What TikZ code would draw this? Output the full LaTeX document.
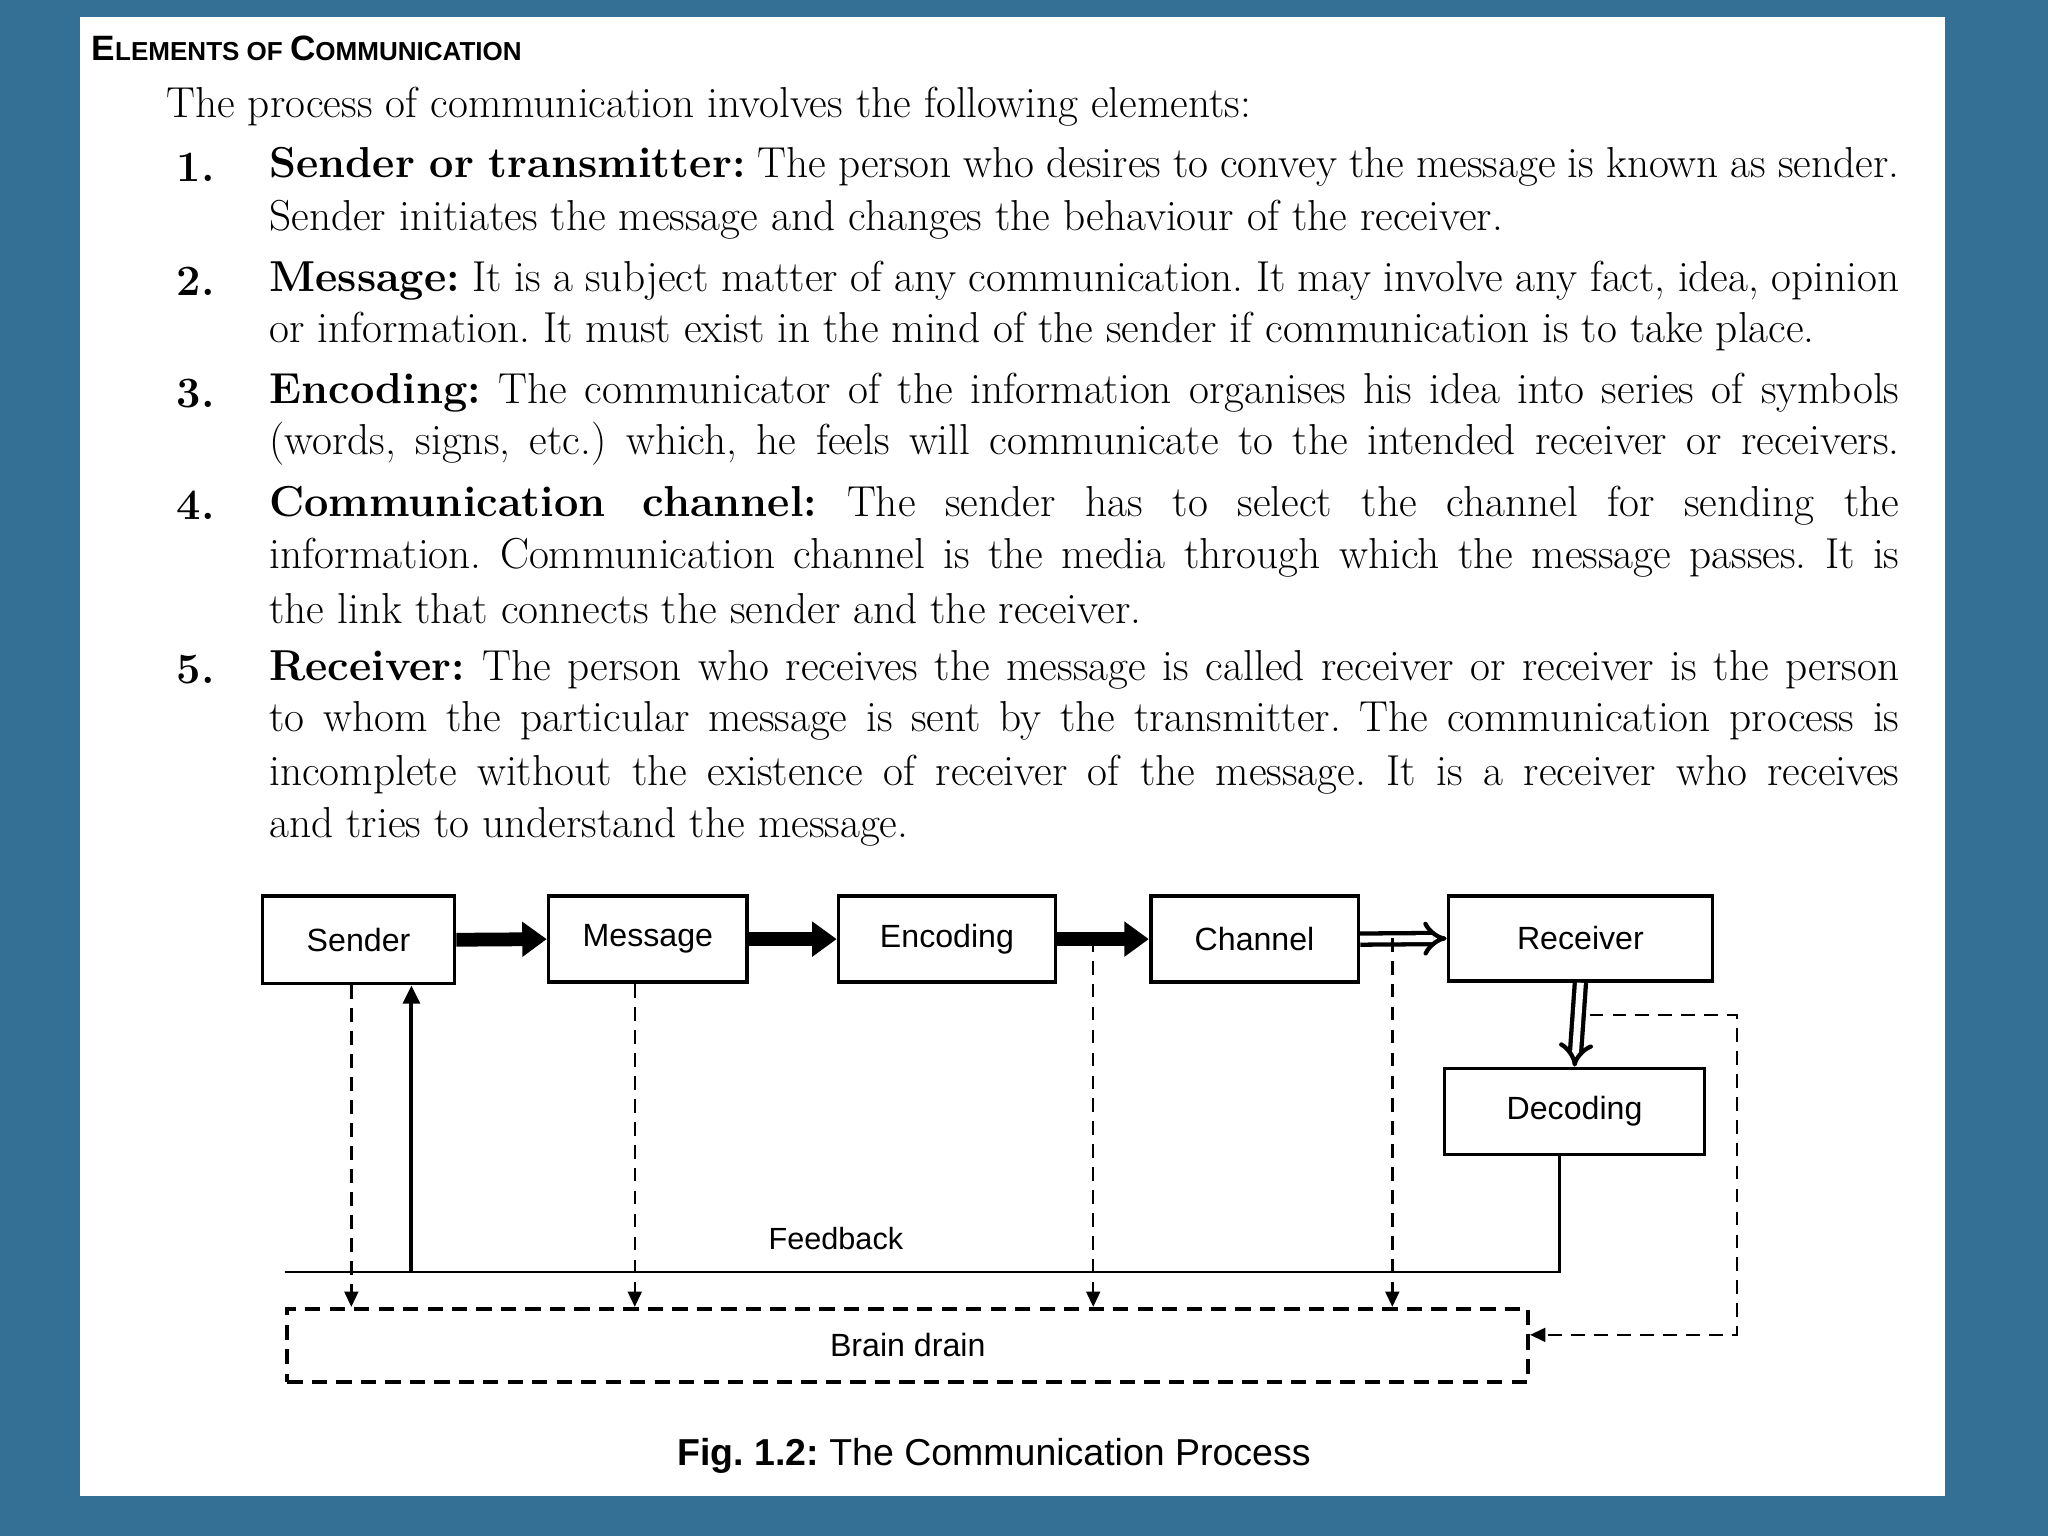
\documentclass[tikz,border=0pt]{standalone}
\usepackage{fontspec}
\newfontfamily\sans{Liberation Sans}
\usetikzlibrary{arrows.meta}
\definecolor{bgblue}{RGB}{52,112,150}
\newcommand{\jl}[1]{\hbox to 37.44cm{#1}}
\frenchspacing
\begin{document}
\begin{tikzpicture}[x=0.03cm,y=-0.03cm,
  box/.style={draw,line width=2.4pt,font=\sans\fontsize{21}{24}\selectfont,inner sep=0pt},
  txt/.style={anchor=west,inner sep=0pt,font=\fontsize{28.3}{34}\selectfont},
  num/.style={anchor=west,inner sep=0pt,font=\bfseries\fontsize{28.3}{34}\selectfont},
  thick arrow/.style={line width=9pt,-{Triangle[length=16pt,width=22pt]}},
  hollow/.style={line width=2.8pt,double distance=4.5pt,-{Implies[length=12pt]}},
  dsh/.style={dashed,line width=1.6pt,dash pattern=on 9pt off 6pt,-{Triangle[length=10pt,width=9pt]}}]
\useasboundingbox (0,0) rectangle (1568,1176);
\fill[bgblue] (0,0) rectangle (1568,1176);
\fill[white] (61,13) rectangle (1489,1145);
% heading
\node[anchor=west,inner sep=0pt,font=\sans\bfseries] (h) at (70,37) {\fontsize{23}{26}\selectfont E\fontsize{17}{20}\selectfont LEMENTS OF \fontsize{23}{26}\selectfont C\fontsize{17}{20}\selectfont OMMUNICATION};
\node[txt] (intro) at (127,82) {The process of communication involves the following elements:};
\node[num] (n1) at (135,128) {1.};
\node[txt] (l1a) at (206,128) {\jl{\textbf{Sender or transmitter:} The person who desires to convey the message is known as sender.}};
\node[txt] (l1b) at (206,168) {Sender initiates the message and changes the behaviour of the receiver.};
\node[num] (n2) at (135,215) {2.};
\node[txt] (l2a) at (206,215) {\jl{\textbf{Message:} It is a subject matter of any communication. It may involve any fact, idea, opinion}};
\node[txt] (l2b) at (206,254) {or information. It must exist in the mind of the sender if communication is to take place.};
\node[num] (n3) at (135,301) {3.};
\node[txt] (l3a) at (206,301) {\jl{\textbf{Encoding:} The communicator of the information organises his idea into series of symbols}};
\node[txt] (l3b) at (206,340) {\jl{(words, signs, etc.) which, he feels will communicate to the intended receiver or receivers.}};
\node[num] (n4) at (135,387) {4.};
\node[txt] (l4a) at (206,387) {\jl{\textbf{Communication channel:} The sender has to select the channel for sending the}};
\node[txt] (l4b) at (206,427) {\jl{information. Communication channel is the media through which the message passes. It is}};
\node[txt] (l4c) at (206,466) {the link that connects the sender and the receiver.};
\node[num] (n5) at (135,513) {5.};
\node[txt] (l5a) at (206,513) {\jl{\textbf{Receiver:} The person who receives the message is called receiver or receiver is the person}};
\node[txt] (l5b) at (206,552) {\jl{to whom the particular message is sent by the transmitter. The communication process is}};
\node[txt] (l5c) at (206,593) {\jl{incomplete without the existence of receiver of the message. It is a receiver who receives}};
\node[txt] (l5d) at (206,633) {and tries to understand the message.};
% diagram
\node[box,minimum width=4.41cm,minimum height=2.01cm] (s) at (274.5,719.5) {Sender};
\node[box,minimum width=4.56cm,minimum height=1.98cm] (m) at (496,719) {Message};
\node[box,minimum width=4.98cm,minimum height=1.98cm] (e) at (725,719) {Encoding};
\node[box,minimum width=4.77cm,minimum height=1.98cm] (c) at (960.5,719) {Channel};
\node[box,minimum width=6.06cm,minimum height=1.95cm] (r) at (1210,718.5) {Receiver};
\node[box,minimum width=5.97cm,minimum height=1.98cm] (d) at (1205.5,851) {Decoding};
\node[box,dashed,dash pattern=on 10pt off 6pt,minimum width=28.5cm,minimum height=1.68cm] (b) at (695,1030) {Brain drain};
\draw[thick arrow] (s.east) -- (m.west);
\draw[thick arrow] (m.west -| m.east) -- (e.west);
\draw[thick arrow] (e.east) -- (c.west);
\draw[hollow] (c.east) -- (r.west);
\draw[hollow] (r.south) -- (d.north);
% dashed drops
\coordinate (x1) at (269,0);
\coordinate (x2) at (315,0);
\coordinate (x3) at (486,0);
\coordinate (x4) at (837,718);
\coordinate (x5) at (1066,718);
\draw[dsh] (s.south -| x1) -- (b.north -| x1);
\draw[dsh] (m.south -| x3) -- (b.north -| x3);
\draw[dsh] (x4) -- (b.north -| x4);
\draw[dsh] (x5) -- (b.north -| x5);
% feedback
\coordinate (fb) at (218,974);
\coordinate (fx) at (1194,0);
\draw[line width=1.6pt] (fb) -- (fb -| fx) -- (d.south -| fx);
\draw[line width=2.6pt,-{Triangle[length=12pt,width=11pt]}] (fb -| x2) -- (s.south -| x2);
\node[font=\sans\fontsize{20}{24}\selectfont] (fbl) at (640,948) {Feedback};
% loop
\coordinate (l1) at (1217,777);
\coordinate (l2) at (1330,777);
\coordinate (l3) at (1330,1022);
\draw[dsh] (l1) -- (l2) -- (l3) -- (l3 -| b.east);
% caption
\node[font=\sans\fontsize{24.5}{28}\selectfont] (cap) at (761,1115) {\textbf{Fig. 1.2:} The Communication Process};
\end{tikzpicture}
\end{document}
